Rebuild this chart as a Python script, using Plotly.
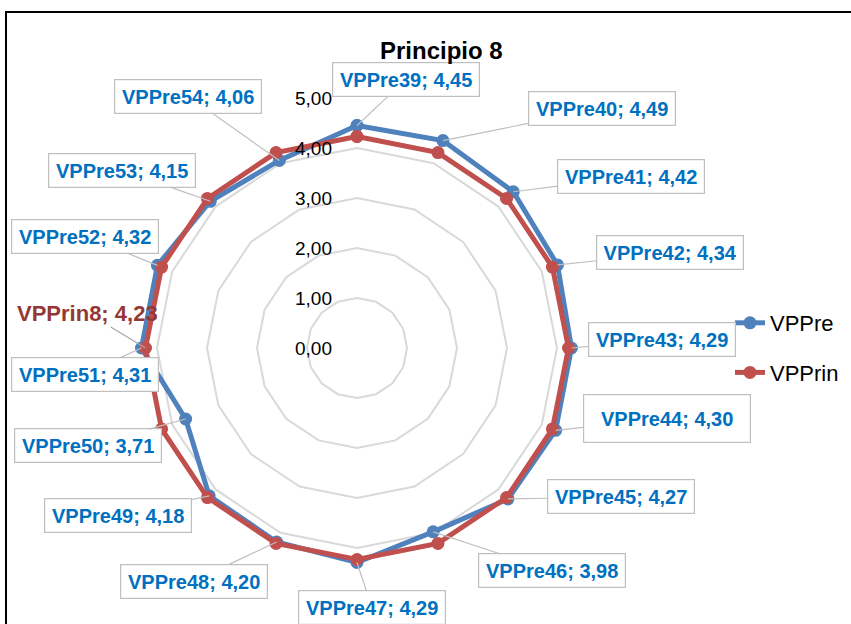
import math
import plotly.graph_objects as go

# Survey items and mean scores
categories = [f"VPPre{n}" for n in range(39, 55)]
vppre = [4.45, 4.49, 4.42, 4.34, 4.29, 4.30, 4.27, 3.98,
         4.29, 4.20, 4.18, 3.71, 4.31, 4.32, 4.15, 4.06]
vpprin_value = 4.23
vpprin = [vpprin_value] * len(categories)

radial_ticks = [0, 1, 2, 3, 4, 5]
radial_ticktext = ["0,00", "1,00", "2,00", "3,00", "4,00", "5,00"]

# Label box offsets (pixels from the point) and box sizes
label_offsets = [(49, -46), (159, -32), (118, -15), (113, -12), (90, -9),
                 (111, -12), (113, -2), (119, 39), (15, 45), (-83, 39),
                 (-91, 20), (-98, 27), (-57, 26), (-72, -29), (-88, -31),
                 (-91, -64)]
big_box = {"VPPre44"}

FONT = "Liberation Sans, Arial, sans-serif"
BLUE = "#4F81BD"
RED = "#C0504D"
LABEL_BLUE = "#0070C0"
GRID = "#D9D9D9"

W, H = 851, 624
cx, cy, R = 357, 348, 250
dom_x = [(cx - R) / W, (cx + R) / W]
dom_y = [(H - cy - R) / H, (H - cy + R) / H]

fig = go.Figure()


def closed(seq):
    return list(seq) + [seq[0]]


fig.add_trace(go.Scatterpolar(
    r=closed(vppre), theta=closed(categories), name="VPPre",
    mode="lines+markers", legendgroup="a",
    line=dict(color=BLUE, width=5),
    marker=dict(color=BLUE, size=13),
))
fig.add_trace(go.Scatterpolar(
    r=closed(vpprin), theta=closed(categories), name="VPPrin",
    mode="lines+markers", legendgroup="b",
    line=dict(color=RED, width=5),
    marker=dict(color=RED, size=13),
))

annotations = []
n = len(categories)


def to_xy(value, idx):
    ang = math.radians(idx * 360 / n)
    return value * math.sin(ang), value * math.cos(ang)


for i, (cat, val) in enumerate(zip(categories, vppre)):
    x, y = to_xy(val, i)
    ax, ay = label_offsets[i]
    big = cat in big_box
    annotations.append(dict(
        x=x, y=y, xref="x", yref="y", ax=ax, ay=ay,
        text=f"<b>{cat}; {val:.2f}</b>".replace(".", ","),
        showarrow=True, arrowhead=0, arrowwidth=1.2, arrowcolor="#BFBFBF",
        standoff=0, bgcolor="white", bordercolor="#BFBFBF", borderwidth=1.2,
        borderpad=3, width=160 if big else 140, height=41 if big else 27,
        font=dict(family=FONT, size=20, color=LABEL_BLUE),
    ))

# Label for the constant VPPrin series
px, py = to_xy(vpprin_value, 12)
annotations.append(dict(
    x=px, y=py, xref="x", yref="y", ax=-58, ay=-35,
    text=f"<b>VPPrin8; {vpprin_value:.2f}</b>".replace(".", ","),
    showarrow=True, arrowhead=0, arrowwidth=1.2, arrowcolor="#A6A6A6",
    standoff=0, font=dict(family=FONT, size=22, color="#953735"),
))

# Radial value labels along the vertical axis
for v, t in zip(radial_ticks, radial_ticktext):
    annotations.append(dict(
        x=0, y=v, xref="x", yref="y", text=t, showarrow=False,
        xanchor="right", yanchor="middle", xshift=-23,
        font=dict(family=FONT, size=19, color="black"),
    ))

annotations.append(dict(
    x=441 / W, y=1 - 50 / H, xref="paper", yref="paper",
    xanchor="center", yanchor="middle",
    text="<b>Principio 8</b>", showarrow=False,
    font=dict(family=FONT, size=24, color="black"),
))

fig.update_layout(
    width=W, height=H,
    margin=dict(l=0, r=0, t=0, b=0),
    paper_bgcolor="white", plot_bgcolor="white",
    template="none",
    hovermode=False,
    polar=dict(
        domain=dict(x=dom_x, y=dom_y),
        bgcolor="white",
        gridshape="linear",
        radialaxis=dict(
            range=[0, 5], tickvals=radial_ticks, showticklabels=False,
            angle=90, showline=False, ticks="", gridcolor=GRID, gridwidth=1.5,
        ),
        angularaxis=dict(
            direction="clockwise", rotation=90, showgrid=False,
            showline=False, showticklabels=False, ticks="",
        ),
    ),
    xaxis=dict(domain=dom_x, range=[-5, 5], visible=False, fixedrange=True),
    yaxis=dict(domain=dom_y, range=[-5, 5], visible=False, fixedrange=True),
    legend=dict(
        x=730 / W, y=1 - 348 / H, xanchor="left", yanchor="middle",
        font=dict(family=FONT, size=22, color="black"),
        traceorder="grouped", tracegroupgap=18, bgcolor="rgba(0,0,0,0)",
    ),
    annotations=annotations,
    shapes=[dict(
        type="rect", xref="paper", yref="paper",
        x0=6 / W, x1=1.05, y0=-0.05, y1=1 - 12 / H,
        line=dict(color="black", width=2), layer="above",
    )],
)

fig.write_html("out.html")
